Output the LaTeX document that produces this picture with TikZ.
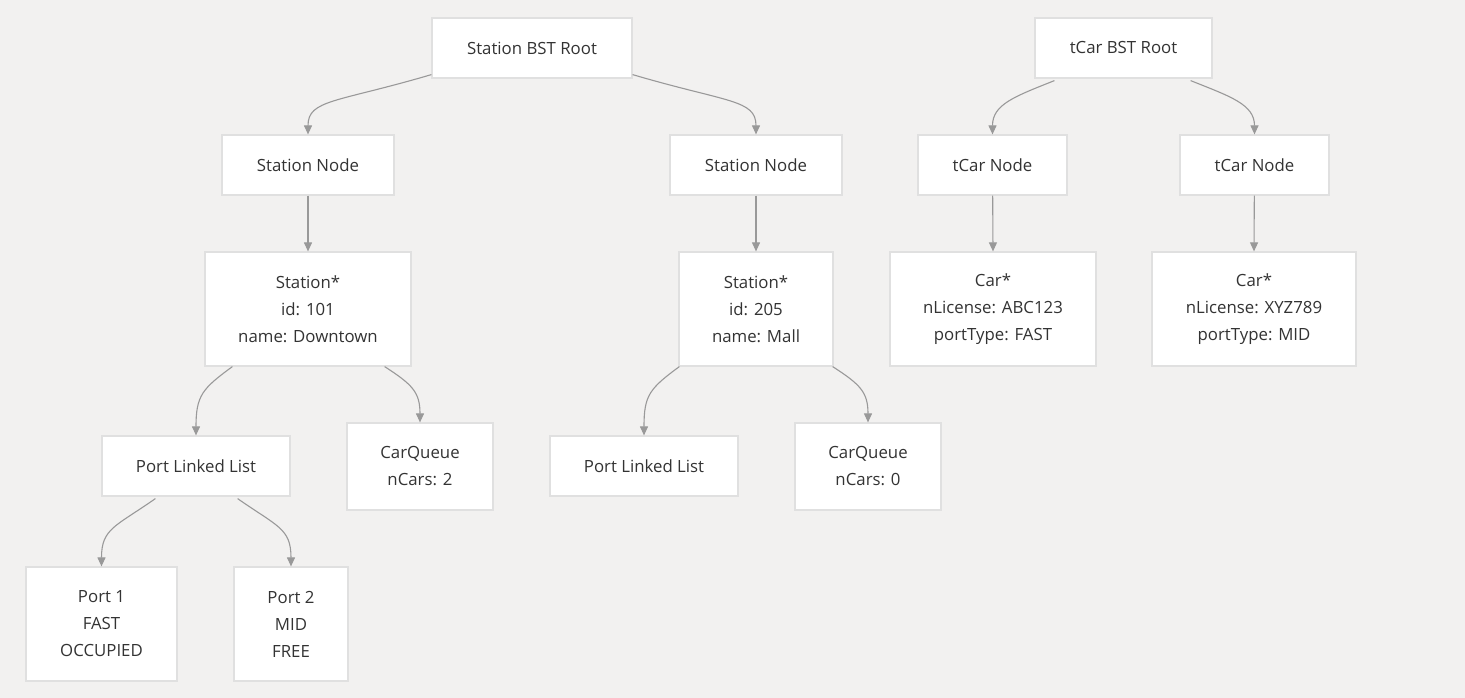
\documentclass[tikz,border=0pt]{standalone}
\usepackage{fontspec}
\setmainfont{Open Sans}
\usetikzlibrary{arrows.meta,calc}
\definecolor{bgc}{RGB}{242,241,240}
\definecolor{bordc}{RGB}{224,224,224}
\definecolor{edgec}{RGB}{153,153,153}
\definecolor{txtc}{RGB}{51,51,51}
\tikzset{
  box/.style={draw=bordc, line width=1.2pt, fill=white, text=txtc, inner sep=0pt,
    align=center, font=\fontsize{16.8}{27}\selectfont},
  edge/.style={draw=edgec, line width=1.1pt, -{Triangle[length=9pt,width=8pt]}},
}
\begin{document}
\begin{tikzpicture}[x=1pt,y=1pt]
\fill[bgc] (0,0) rectangle (1465,-698);
\useasboundingbox (0,0) rectangle (1465,-698);
% top level
\node[box, minimum width=200pt, minimum height=60pt] (sroot) at (532,-48) {Station BST Root};
\node[box, minimum width=177pt, minimum height=60pt] (troot) at (1123.5,-48) {tCar BST Root};
\node[box, minimum width=172pt, minimum height=60pt] (snl) at (308,-165) {Station Node};
\node[box, minimum width=172pt, minimum height=60pt] (snr) at (756,-165) {Station Node};
\node[box, minimum width=149pt, minimum height=60pt] (tnl) at (992.5,-165) {tCar Node};
\node[box, minimum width=149pt, minimum height=60pt] (tnr) at (1254.5,-165) {tCar Node};
\node[box, minimum width=206pt, minimum height=114pt] (st1) at (308,-309) {Station*\\id: 101\\name: Downtown};
\node[box, minimum width=154pt, minimum height=114pt] (st2) at (756,-309) {Station*\\id: 205\\name: Mall};
\node[box, minimum width=206pt, minimum height=114pt] (car1) at (993,-309) {Car*\\nLicense: ABC123\\portType: FAST};
\node[box, minimum width=204pt, minimum height=114pt] (car2) at (1254,-309) {Car*\\nLicense: XYZ789\\portType: MID};
\node[box, minimum width=188pt, minimum height=60pt] (pll1) at (196,-466) {Port Linked List};
\node[box, minimum width=146pt, minimum height=87pt] (cq1) at (420,-466.5) {CarQueue\\nCars: 2};
\node[box, minimum width=188pt, minimum height=60pt] (pll2) at (644,-466) {Port Linked List};
\node[box, minimum width=146pt, minimum height=87pt] (cq2) at (868,-466.5) {CarQueue\\nCars: 0};
\node[box, minimum width=151pt, minimum height=114pt] (p1) at (101.5,-624) {Port 1\\FAST\\OCCUPIED};
\node[box, minimum width=114pt, minimum height=114pt] (p2) at (291,-624) {Port 2\\MID\\FREE};
% curved edges
\draw[edge] ($(sroot.south west)+(0,4)$) .. controls +(-95,-28) and +(0,35) .. (snl.north);
\draw[edge] ($(sroot.south east)+(0,4)$) .. controls +(95,-28) and +(0,35) .. (snr.north);
\draw[edge] ($(troot.south west)+(20,-2)$) .. controls +(-40,-16) and +(0,30) .. (tnl.north);
\draw[edge] ($(troot.south east)+(-22,-2)$) .. controls +(40,-16) and +(0,30) .. (tnr.north);
\draw[edge] ($(st1.south west)+(28,0)$) .. controls +(-30,-22) and +(0,40) .. (pll1.north);
\draw[edge] ($(st1.south east)+(-27,0)$) .. controls +(28,-18) and +(0,30) .. (cq1.north);
\draw[edge] ($(st2.south west)+(1,0)$) .. controls +(-30,-22) and +(0,40) .. (pll2.north);
\draw[edge] ($(st2.south east)+(-1,0)$) .. controls +(28,-18) and +(0,30) .. (cq2.north);
\draw[edge] ($(pll1.south west)+(54,-2)$) .. controls +(-40,-28) and +(0,38) .. (p1.north);
\draw[edge] ($(pll1.south east)+(-53,-2)$) .. controls +(40,-28) and +(0,38) .. (p2.north);
% straight edges
\draw[edge] (snl) -- (st1);
\draw[edge] (snr) -- (st2);
\draw[edge] (tnl) -- (car1.north);
\draw[edge] (tnr) -- (car2.north);
\end{tikzpicture}
\end{document}
